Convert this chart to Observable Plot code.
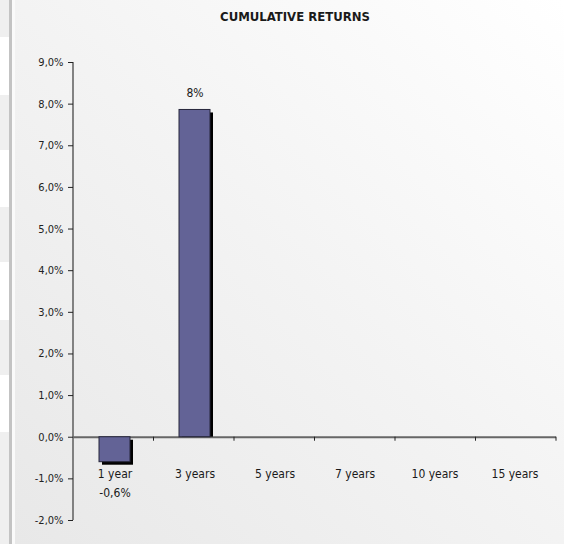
<!DOCTYPE html>
<html>
<head>
<meta charset="utf-8">
<script src="https://cdn.jsdelivr.net/npm/d3@7"></script>
<script src="https://cdn.jsdelivr.net/npm/@observablehq/plot@0.6"></script>
<style>
  html, body { margin: 0; padding: 0; background: #fff; }
  #wrap { position: relative; width: 564px; height: 544px; overflow: hidden;
    font-family: "DejaVu Sans Condensed", "DejaVu Sans", sans-serif; font-stretch: condensed; }
  #strip { position: absolute; left: 0; top: 0; width: 9px; height: 544px;
    background: linear-gradient(to bottom,
      #efefef 0, #efefef 37px, #fff 37px, #fff 95px, #efefef 95px, #efefef 150px,
      #fff 150px, #fff 207px, #efefef 207px, #efefef 262px, #fff 262px, #fff 320px,
      #efefef 320px, #efefef 375px, #fff 375px, #fff 432px, #efefef 432px, #efefef 544px); }
  #vline { position: absolute; left: 9px; top: 0; width: 3px; height: 544px; background: #c3c3c3; }
  #gap { position: absolute; left: 12px; top: 0; width: 3px; height: 544px; background: #fafafa; }
  #panel { position: absolute; left: 15px; top: 0; width: 549px; height: 544px;
    background: linear-gradient(to bottom left, #ffffff 0%, #f3f3f3 50%, #e8e8e8 100%); }
  #chart { position: absolute; left: 0; top: 0; width: 564px; }
  #title { height: 30px; line-height: 34px; text-align: center; padding-left: 26px; box-sizing: border-box;
    font-weight: bold; font-size: 13px; color: #1a1a1a; }
  #chart svg { display: block; background: transparent; }
</style>
</head>
<body>
<div id="wrap">
  <div id="strip"></div>
  <div id="vline"></div>
  <div id="gap"></div>
  <div id="panel"></div>
  <div id="chart">
    <div id="title">CUMULATIVE RETURNS</div>
  </div>
</div>
<script>
const categories = ["1 year", "3 years", "5 years", "7 years", "10 years", "15 years"];
const returns = [-0.6, 7.86, null, null, null, null];
const valueLabels = ["-0,6%", "8%", null, null, null, null];
const yTicks = [-2, -1, 0, 1, 2, 3, 4, 5, 6, 7, 8, 9];
const yTickLabels = ["-2,0%", "-1,0%", "0,0%", "1,0%", "2,0%", "3,0%", "4,0%", "5,0%", "6,0%", "7,0%", "8,0%", "9,0%"];

const rows = categories
  .map((c, i) => ({category: c, value: returns[i], label: valueLabels[i]}))
  .filter(d => d.value != null);
const pos = rows.filter(d => d.value >= 0);
const neg = rows.filter(d => d.value < 0);

const axisColor = "#666";

const frameLines = (index, scales, values, dims) => {
  const {width, height, marginLeft, marginRight, marginTop, marginBottom} = dims;
  const g = d3.create("svg:g");
  g.append("line")
    .attr("x1", marginLeft).attr("x2", marginLeft)
    .attr("y1", marginTop).attr("y2", height - marginBottom)
    .attr("stroke", axisColor).attr("stroke-width", 1.6);
  const y0 = scales.y(0);
  const n = categories.length;
  const step = (width - marginLeft - marginRight) / n;
  for (let k = 1; k <= n; k++) {
    const x = marginLeft + k * step;
    g.append("line").attr("x1", x).attr("x2", x).attr("y1", y0).attr("y2", y0 + 4)
      .attr("stroke", "#222").attr("stroke-width", 1);
  }
  return g.node();
};

const plot = Plot.plot({
  width: 564,
  height: 514,
  marginTop: 32,
  marginBottom: 24,
  marginLeft: 73,
  marginRight: 8,
  style: {fontFamily: '"DejaVu Sans Condensed", "DejaVu Sans", sans-serif', fontSize: "11px", color: "#222", background: "transparent"},
  x: {domain: categories, paddingInner: 0.615, paddingOuter: 0.3075, align: 0.5, axis: null},
  y: {domain: [-2, 9], axis: null},
  marks: [
    Plot.ruleY([0], {stroke: axisColor, strokeWidth: 1.8}),
    // shadows
    Plot.barY(pos, {x: "category", y: "value", fill: "#000", dx: 3, dy: 3, insetBottom: 3}),
    Plot.barY(neg, {x: "category", y: "value", fill: "#000", dx: 3, dy: 3}),
    // bars
    Plot.barY(rows, {x: "category", y: "value", fill: "#636396", stroke: "#26263a", strokeWidth: 1}),
    frameLines,
    Plot.axisY({ticks: yTicks, label: null, tickSize: 5, tickPadding: 5, tickFormat: d => yTickLabels[yTicks.indexOf(d)], stroke: "#222", fill: "#222", fontSize: 11}),
    Plot.text(categories, {x: d => d, frameAnchor: "bottom", dy: -46, lineAnchor: "middle", fontSize: 12, fill: "#1a1a1a"}),
    Plot.text(pos, {x: "category", y: "value", text: "label", dy: -17, lineAnchor: "middle", fontSize: 12, fill: "#1a1a1a"}),
    Plot.text(neg, {x: "category", y: "value", text: "label", dy: 31, lineAnchor: "middle", fontSize: 12, fill: "#1a1a1a"})
  ]
});
document.getElementById("chart").appendChild(plot);
</script>
</body>
</html>
